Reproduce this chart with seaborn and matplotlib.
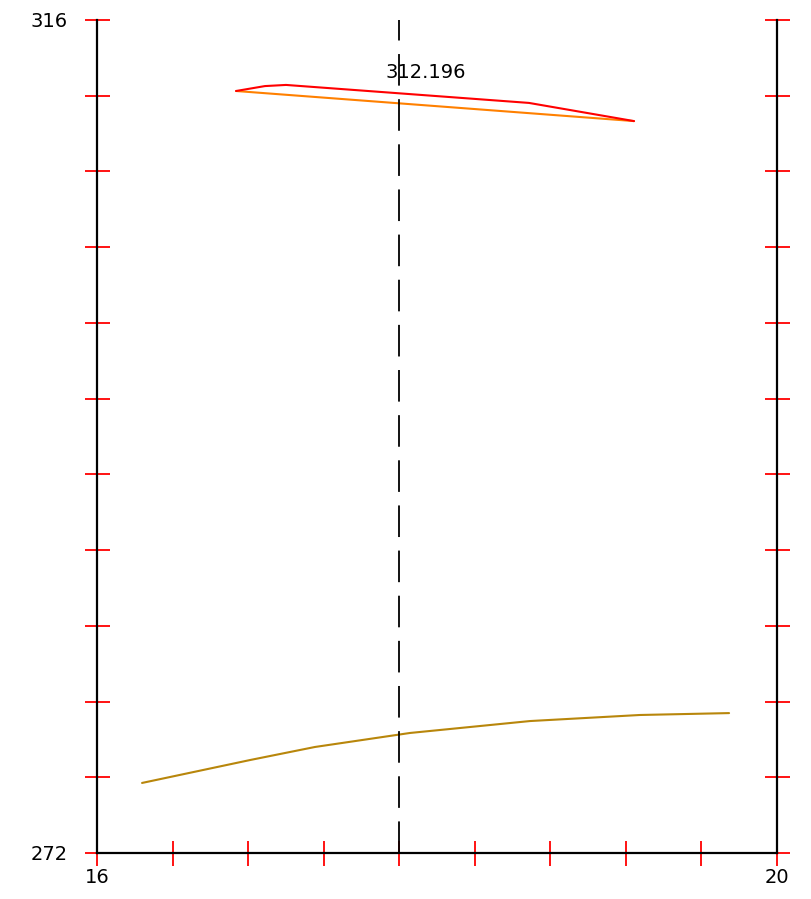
import numpy as np
import pandas as pd
import matplotlib
matplotlib.use("Agg")
import matplotlib.pyplot as plt
import seaborn as sns

# ---- data ----
red_x = [16.818, 16.988, 17.112, 18.541, 19.159]
red_y = [312.25, 312.51, 312.57, 311.62, 310.66]

orange_x = [16.818, 19.159]
orange_y = [312.25, 310.66]

gold_x = [16.265, 16.900, 17.282, 17.841, 18.547, 19.194, 19.718]
gold_y = [275.70, 276.91, 277.60, 278.34, 278.97, 279.29, 279.39]

marker_x = 17.778
marker_label = "312.196"

x_min, x_max = 16, 20
y_min, y_max = 272, 316

sns.set_style("white")
plt.rcParams['font.family'] = ['DejaVu Sans']

fig = plt.figure(figsize=(8.12, 8.99), dpi=100)
ax = fig.add_axes([97 / 812, 46 / 899, 680 / 812, 833 / 899])

red_df = pd.DataFrame({"x": red_x, "y": red_y})
orange_df = pd.DataFrame({"x": orange_x, "y": orange_y})
gold_df = pd.DataFrame({"x": gold_x, "y": gold_y})

sns.lineplot(data=gold_df, x="x", y="y", color="#b8860b", lw=1.5, sort=False, ax=ax)
sns.lineplot(data=orange_df, x="x", y="y", color="#ff8000", lw=1.5, sort=False, ax=ax)
sns.lineplot(data=red_df, x="x", y="y", color="#ff0000", lw=1.5, sort=False, ax=ax)

# dashed marker line + value label (dash ~32px, gap ~14px)
ax.axvline(marker_x, color="black", lw=1.3, linestyle=(0, (17.5, 7.5)))
ax.text(17.935, 313.25, marker_label, ha="center", va="center",
        fontsize=14, color="black")

ax.set_xlim(x_min, x_max)
ax.set_ylim(y_min, y_max)

xt = np.linspace(x_min, x_max, 10)
yt = np.linspace(y_min, y_max, 12)
ax.set_xticks(xt)
ax.set_yticks(yt)
ax.set_xticklabels(["16"] + [""] * 8 + ["20"])
ax.set_yticklabels(["272"] + [""] * 10 + ["316"])

ax.tick_params(axis="both", direction="inout", length=18, width=1.3,
               color="red", labelsize=14, labelcolor="black")
ax.tick_params(axis="y", left=True, right=True, pad=12)
ax.tick_params(axis="x", bottom=True, top=False, pad=2)

ax.set_xlabel("")
ax.set_ylabel("")

for side in ["left", "right", "bottom"]:
    ax.spines[side].set_visible(True)
    ax.spines[side].set_color("black")
    ax.spines[side].set_linewidth(1.6)
ax.spines["top"].set_visible(False)

plt.savefig("out.png", dpi=100)
plt.close()
